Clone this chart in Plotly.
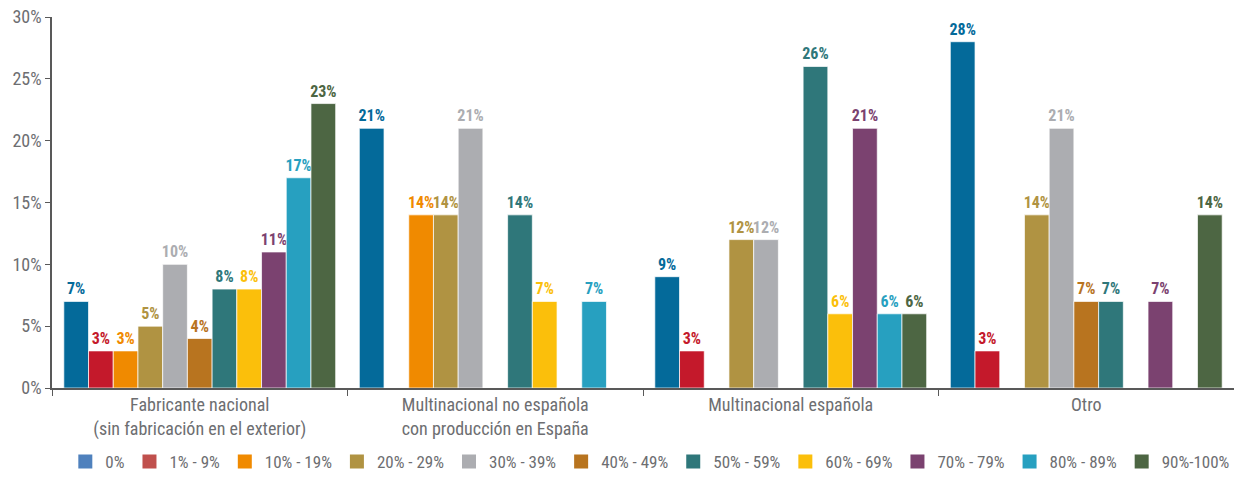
import plotly.graph_objects as go

# Company types (x categories)
categories = [
    "Fabricante nacional<br>(sin fabricación en el exterior)",
    "Multinacional no española<br>con producción en España",
    "Multinacional española",
    "Otro",
]

# Share brackets (series)
series_names = ["0%", "1% - 9%", "10% - 19%", "20% - 29%", "30% - 39%", "40% - 49%",
                "50% - 59%", "60% - 69%", "70% - 79%", "80% - 89%", "90%-100%"]

# Percentage of companies per bracket, one list per category (None = no bar)
fabricante_nacional = [7, 3, 3, 5, 10, 4, 8, 8, 11, 17, 23]
multinacional_no_espanola = [21, None, 14, 14, 21, None, 14, 7, None, 7, None]
multinacional_espanola = [9, 3, None, 12, 12, None, 26, 6, 21, 6, 6]
otro = [28, 3, None, 14, 21, 7, 7, None, 7, None, 14]

# Y axis ticks
y_tickvals = [0, 5, 10, 15, 20, 25, 30]
y_ticktext = ["0%", "5%", "10%", "15%", "20%", "25%", "30%"]

bar_colors = ["#046a9a", "#c4192b", "#f08a00", "#b09342", "#acadb1", "#b8741f",
              "#2f777a", "#fbbf0b", "#7b4270", "#27a0c0", "#4d6643"]
legend_colors = ["#4f81bd", "#c0504d", "#f08a00", "#b09342", "#acadb1", "#b8741f",
                 "#2f777a", "#fbbf0b", "#7b4270", "#27a0c0", "#4d6643"]

FONT = "Roboto Condensed, Liberation Sans Narrow, Roboto, sans-serif"
GREY = "#6d6e71"
AXIS = "#595959"

rows = [fabricante_nacional, multinacional_no_espanola, multinacional_espanola, otro]

fig = go.Figure()

for i, name in enumerate(series_names):
    values = [row[i] for row in rows]
    labels = [f"{v}%" if v is not None else "" for v in values]
    fig.add_trace(go.Bar(
        x=categories,
        y=values,
        name=name,
        showlegend=False,
        marker=dict(color=bar_colors[i], line=dict(color="rgba(255,255,255,0.7)", width=1)),
        text=labels,
        texttemplate="%{text}",
        textposition="outside",
        constraintext="none",
        textfont=dict(family=FONT, size=16, color=bar_colors[i], weight="bold"),
        cliponaxis=False,
        hovertemplate="%{x}<br>" + name + ": %{text}<extra></extra>",
    ))

# Legend entries drawn on a hidden overlay axis
for i, name in enumerate(series_names):
    fig.add_trace(go.Bar(
        x=[None], y=[None], name=name,
        marker=dict(color=legend_colors[i], line=dict(color=legend_colors[i], width=2)),
        xaxis="x2", yaxis="y2",
        showlegend=True, hoverinfo="skip",
    ))

fig.update_layout(
    width=1234, height=480,
    margin=dict(l=52, r=0, t=17, b=92),
    paper_bgcolor="white", plot_bgcolor="white",
    barmode="group", bargap=0.08, bargroupgap=0,
    font=dict(family=FONT, size=18, color=GREY),
    showlegend=True,
    legend=dict(
        orientation="h", xref="container", yref="container",
        x=0.527, xanchor="center", y=-0.016, yanchor="bottom",
        font=dict(family=FONT, size=17, color=GREY),
        itemwidth=30, tracegroupgap=0, bgcolor="rgba(0,0,0,0)",
    ),
    xaxis=dict(
        type="category", showline=True, linecolor=AXIS, linewidth=1.5,
        ticks="outside", tickson="boundaries", ticklen=6, tickcolor=AXIS,
        tickfont=dict(family=FONT, size=18, color=GREY),
        showgrid=False, zeroline=False,
    ),
    yaxis=dict(
        range=[0, 30], tickmode="array", tickvals=y_tickvals, ticktext=y_ticktext,
        showline=True, linecolor=AXIS, linewidth=1.5,
        ticks="outside", ticklen=5, tickcolor=AXIS,
        tickfont=dict(family=FONT, size=18, color=GREY),
        showgrid=False, zeroline=False,
    ),
    xaxis2=dict(overlaying="x", visible=False, range=[0, 1]),
    yaxis2=dict(overlaying="y", visible=False, range=[0, 1]),
)

fig.write_html("out.html")
